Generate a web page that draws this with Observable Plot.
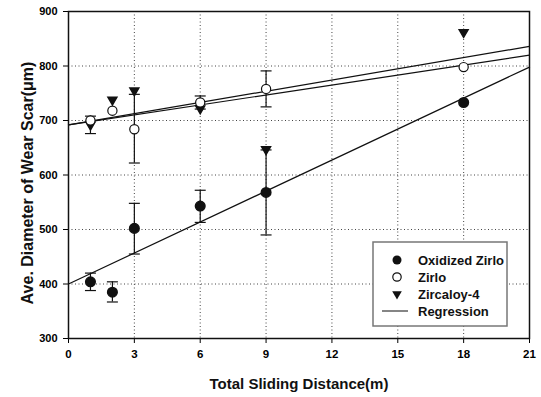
<!DOCTYPE html>
<html><head><meta charset="utf-8">
<script src="https://cdn.jsdelivr.net/npm/d3@7"></script>
<script src="https://cdn.jsdelivr.net/npm/@observablehq/plot@0.6"></script>
<style>
body{margin:0;background:#fff;font-family:"Liberation Sans",Arial,sans-serif;}
#chart{position:relative;width:541px;height:397px;}
</style></head>
<body><div id="chart"></div>
<script>
const distances = [1, 2, 3, 6, 9, 18];
const oxidizedZirlo = [404, 385, 502, 543, 568, 733];
const zirlo = [700, 718, 684, 733, 758, 798];
const zircaloy4 = [692, 738, 755, 722, 647, 862];

const oxLow  = [388, 367, 455, 513, 490, null];
const oxHigh = [420, 404, 548, 572, 646, null];
const zirloLow  = [null, null, 622, 721, 725, null];
const zirloHigh = [null, null, 748, 745, 791, null];
const zircLow  = [676, null, null, null, null, null];
const zircHigh = [708, null, null, null, null, null];

const regX = [0, 21];
const regOx = [400, 798];
const regZirlo = [692, 820];
const regZirc = [692, 836];

const xTicks = [0, 3, 6, 9, 12, 15, 18, 21];
const yTicks = [300, 400, 500, 600, 700, 800, 900];
const legendLabels = ["Oxidized Zirlo", "Zirlo", "Zircaloy-4", "Regression"];
const xLabel = "Total Sliding Distance(m)";
const yLabel = "Ave. Diameter of Wear Scar(μm)";

const pts = (ys) => distances.map((x, i) => ({x, y: ys[i]}));
const errs = (lo, hi) => distances.map((x, i) => ({x, lo: lo[i], hi: hi[i]})).filter(d => d.lo != null);
const regs = (ys) => regX.map((x, i) => ({x, y: ys[i]}));

const allErr = [...errs(oxLow, oxHigh), ...errs(zirloLow, zirloHigh), ...errs(zircLow, zircHigh)];
const capSymbol = {draw(ctx, size) { const w = Math.sqrt(size / Math.PI); ctx.moveTo(-w, 0); ctx.lineTo(w, 0); }};
const font = "Liberation Sans, Arial, sans-serif";

const plot = Plot.plot({
  width: 541, height: 397,
  marginLeft: 68, marginRight: 12, marginTop: 11, marginBottom: 59,
  style: {fontFamily: font, fontWeight: "bold", fontSize: "11px", color: "#000", background: "#fff"},
  x: {domain: [0, 21]},
  y: {domain: [300, 900]},
  marks: [
    Plot.gridX(xTicks, {stroke: "#444", strokeOpacity: 1, strokeDasharray: "1,2.5"}),
    Plot.gridY(yTicks, {stroke: "#444", strokeOpacity: 1, strokeDasharray: "1,2.5"}),
    Plot.axisX({ticks: xTicks, tickSize: 5, fontSize: 11.5, fontWeight: "bold", label: null, tickPadding: 6}),
    Plot.axisY({ticks: yTicks, tickSize: 5, fontSize: 11, fontWeight: "bold", label: null, tickPadding: 6}),
    Plot.text([xLabel], {text: d => d, frameAnchor: "bottom", dy: 50, fontSize: 15, fontWeight: "bold", fill: "#111"}),
    Plot.text([yLabel], {text: d => d, frameAnchor: "left", textAnchor: "middle", dx: -41, dy: 8, rotate: -90, fontSize: 16, fontWeight: "bold", fill: "#111"}),
    Plot.ruleX(allErr, {x: "x", y1: "lo", y2: "hi", stroke: "#111", strokeWidth: 1.2}),
    Plot.dot(allErr, {x: "x", y: "lo", symbol: capSymbol, r: 5.5, stroke: "#111", strokeWidth: 1.2}),
    Plot.dot(allErr, {x: "x", y: "hi", symbol: capSymbol, r: 5.5, stroke: "#111", strokeWidth: 1.2}),
    Plot.line(regs(regOx), {x: "x", y: "y", stroke: "#111", strokeWidth: 1.2}),
    Plot.line(regs(regZirlo), {x: "x", y: "y", stroke: "#111", strokeWidth: 1.2}),
    Plot.line(regs(regZirc), {x: "x", y: "y", stroke: "#111", strokeWidth: 1.2}),
    Plot.dot(pts(zircaloy4), {x: "x", y: "y", symbol: "triangle", rotate: 180, r: 3.3, fill: "#111", stroke: "#111"}),
    Plot.dot(pts(oxidizedZirlo), {x: "x", y: "y", r: 4.8, fill: "#111", stroke: "#111"}),
    Plot.dot(pts(zirlo), {x: "x", y: "y", r: 4.6, fill: "#fff", stroke: "#111", strokeWidth: 1.2}),
    Plot.frame({stroke: "#111", strokeWidth: 1.5})
  ]
});
document.getElementById("chart").appendChild(plot);

// legend inside the plot area
const svg = d3.select(plot);
const g = svg.append("g").attr("transform", "translate(373,242)");
g.append("rect").attr("width", 134).attr("height", 84).attr("fill", "#fff").attr("stroke", "#777").attr("stroke-width", 1.5);
const rowY = [18, 35, 52, 69];
legendLabels.forEach((lab, i) => {
  const y = rowY[i];
  if (i === 0) g.append("circle").attr("cx", 24).attr("cy", y).attr("r", 4.5).attr("fill", "#111");
  if (i === 1) g.append("circle").attr("cx", 24).attr("cy", y).attr("r", 4.2).attr("fill", "#fff").attr("stroke", "#111").attr("stroke-width", 1.2);
  if (i === 2) g.append("path").attr("d", d3.symbol(d3.symbolTriangle, 40)()).attr("transform", `translate(24,${y}) rotate(180)`).attr("fill", "#111");
  if (i === 3) g.append("line").attr("x1", 9).attr("x2", 35).attr("y1", y).attr("y2", y).attr("stroke", "#333").attr("stroke-width", 1.2);
  g.append("text").attr("x", 45).attr("y", y).attr("dy", "0.35em").attr("text-anchor", "start").attr("font-size", 13).attr("font-weight", "bold").attr("font-family", font).attr("fill", "#111").text(lab);
});
</script></body></html>
